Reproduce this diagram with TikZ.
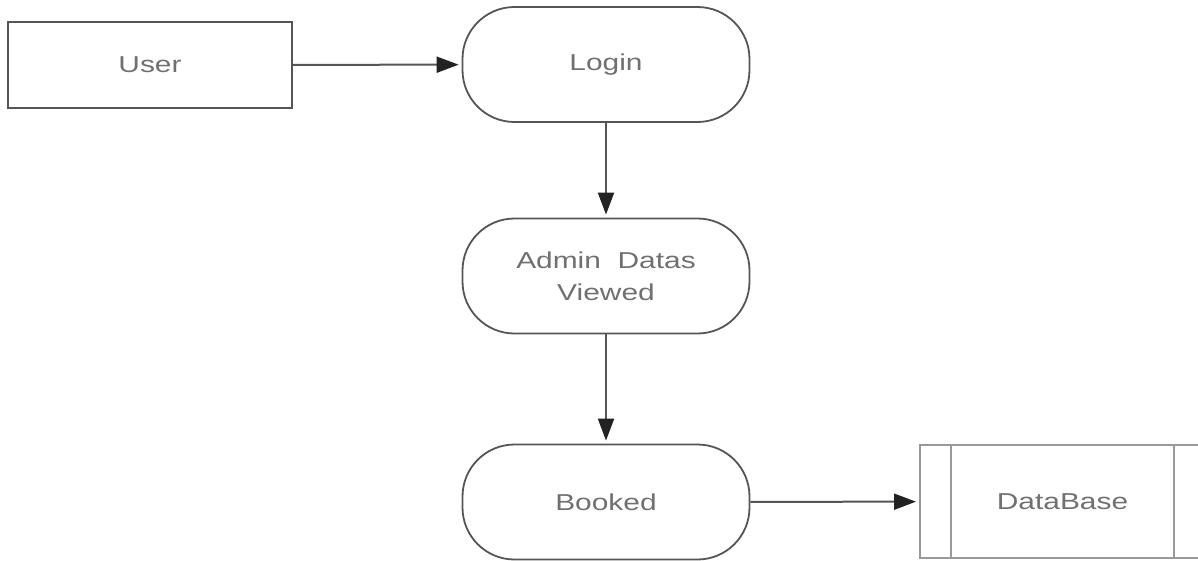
\documentclass[tikz,border=0pt]{standalone}
\usepackage{fontspec}
\setmainfont{Liberation Sans}
\newfontfamily\diagfont[FakeStretch=1.3]{Liberation Sans}
\usetikzlibrary{arrows.meta}
\definecolor{edge}{HTML}{555555}
\definecolor{lightedge}{HTML}{999999}
\definecolor{txt}{HTML}{707070}
\definecolor{tipcol}{HTML}{222222}
\begin{document}
\begin{tikzpicture}[x=1pt,y=-1pt,
  every node/.style={font=\diagfont\fontsize{23}{32}\selectfont, text=txt, align=center},
  entity/.style={draw=edge, line width=2pt, minimum width=284pt, minimum height=86pt, inner sep=0pt},
  process/.style={draw=edge, line width=1.8pt, rounded corners=52pt, minimum width=287pt, minimum height=115pt, inner sep=0pt},
  store/.style={draw=lightedge, line width=2pt, minimum width=285pt, minimum height=113pt, inner sep=0pt},
  flow/.style={draw=edge, line width=2pt, -{Triangle[length=22pt,width=16pt,color=tipcol]}, shorten >=3pt}
]
\clip (0,0) rectangle (1198,560);
\node[entity] (user) at (150,65) {User};
\node[process] (login) at (606,64.5) {Login};
\node[process] (admin) at (606,276) {Admin\ \ Datas\\Viewed};
\node[process] (booked) at (606,502) {Booked};
\node[store] (db) at (1062.5,501.5) {DataBase};
\draw[lightedge, line width=2pt] ([xshift=32pt]db.north west) -- ([xshift=32pt]db.south west);
\draw[lightedge, line width=2pt] ([xshift=-32pt]db.north east) -- ([xshift=-32pt]db.south east);
\draw[flow] (user) -- (login);
\draw[flow] (login) -- (admin);
\draw[flow] (admin) -- (booked);
\draw[flow] (booked) -- (db);
\end{tikzpicture}
\end{document}
